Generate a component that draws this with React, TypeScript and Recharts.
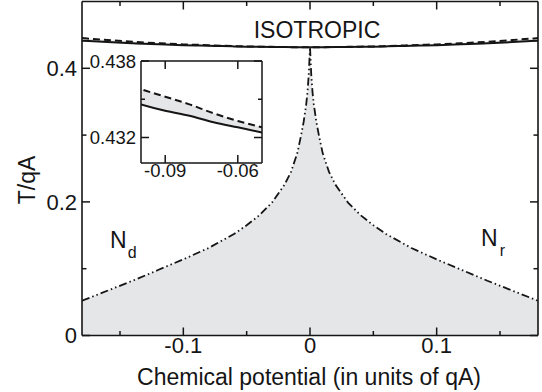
import React from "react";
import { ComposedChart, Area, Line, XAxis, YAxis } from "recharts";

// nematic-isotropic boundary (dash-dot) and the shaded nematic region under it
const nemMu = [
  -0.18, -0.16, -0.14, -0.12, -0.1, -0.08, -0.06, -0.05, -0.04, -0.03, -0.02, -0.015, -0.01, -0.007, -0.005,
  -0.003, -0.002, -0.001, 0, 0.001, 0.002, 0.003, 0.005, 0.007, 0.01, 0.015, 0.02, 0.03, 0.04, 0.05, 0.06,
  0.08, 0.1, 0.12, 0.14, 0.16, 0.18,
];
const nemT = [
  0.052, 0.067, 0.082, 0.098, 0.114, 0.131, 0.152, 0.165, 0.18, 0.199, 0.226, 0.245, 0.273, 0.3, 0.32,
  0.346, 0.364, 0.39, 0.432, 0.39, 0.364, 0.346, 0.32, 0.3, 0.273, 0.245, 0.226, 0.199, 0.18, 0.165, 0.152,
  0.131, 0.114, 0.098, 0.082, 0.067, 0.052,
];

// isotropic transition: solid and dashed lines
const isoMu = [
  -0.18, -0.16, -0.14, -0.12, -0.1, -0.09, -0.08, -0.07, -0.06, -0.05, -0.04, -0.03, -0.02, -0.01, 0,
  0.01, 0.02, 0.03, 0.04, 0.05, 0.06, 0.07, 0.08, 0.09, 0.1, 0.12, 0.14, 0.16, 0.18,
];
const isoSolid = [
  0.4413, 0.4393, 0.4375, 0.4359, 0.4346, 0.4341, 0.4337, 0.4332, 0.4328, 0.4324, 0.4321, 0.4319, 0.4317, 0.4316, 0.4316,
  0.4316, 0.4317, 0.4319, 0.4321, 0.4324, 0.4328, 0.4332, 0.4337, 0.4341, 0.4346, 0.4359, 0.4375, 0.4393, 0.4413,
];
const isoDashed = [
  0.4452, 0.4424, 0.4398, 0.4376, 0.4358, 0.4352, 0.4346, 0.4339, 0.4333, 0.4328, 0.4324, 0.4321, 0.4318, 0.4316, 0.4316,
  0.4316, 0.4318, 0.4321, 0.4324, 0.4328, 0.4333, 0.4339, 0.4346, 0.4352, 0.4358, 0.4376, 0.4398, 0.4424, 0.4452,
];

const xTicks = [-0.15, -0.1, -0.05, 0, 0.05, 0.1, 0.15];
const xLabels = [-0.1, 0, 0.1];
const yTicks = [0, 0.1, 0.2, 0.3, 0.4];
const yLabels = [0, 0.2, 0.4];

const insetXTicks = [-0.09, -0.075, -0.06];
const insetXLabels = [-0.09, -0.06];
const insetYTicks = [0.4305, 0.432, 0.4335, 0.435, 0.4365, 0.438];
const insetYLabels = [0.432, 0.438];

const nemData = nemMu.map((mu, i) => ({ mu, t: nemT[i] }));
const isoData = isoMu.map((mu, i) => ({ mu, solid: isoSolid[i], dashed: isoDashed[i] }));

const FONT = "'Liberation Sans', Arial, sans-serif";
const INK = "#151515";
const GREY = "#e5e6e8";

// ticks point inward; labels only on the major ones
function makeTick(side: string, labels: number[], fs: number, big: number, small: number) {
  return (props: any) => {
    const { x, y, payload } = props;
    const v = payload.value;
    const major = labels.includes(v);
    const len = major ? big : small;
    let line;
    let label = null;
    if (side === "bottom") {
      line = <line x1={x} x2={x} y1={y} y2={y - len} stroke={INK} strokeWidth={1.5} />;
      if (major)
        label = (
          <text x={x} y={y + fs * 0.78} textAnchor="middle" fontSize={fs} fontFamily={FONT} fill={INK}>
            {String(v)}
          </text>
        );
    } else if (side === "top") {
      line = <line x1={x} x2={x} y1={y} y2={y + len} stroke={INK} strokeWidth={1.5} />;
    } else if (side === "left") {
      line = <line x1={x} x2={x + len} y1={y} y2={y} stroke={INK} strokeWidth={1.5} />;
      if (major)
        label = (
          <text x={x - 5} y={y + fs * 0.36} textAnchor="end" fontSize={fs} fontFamily={FONT} fill={INK}>
            {String(v)}
          </text>
        );
    } else {
      line = <line x1={x} x2={x - len} y1={y} y2={y} stroke={INK} strokeWidth={1.5} />;
    }
    return (
      <g>
        {line}
        {label}
      </g>
    );
  };
}

function Inset() {
  return (
    <div style={{ position: "absolute", left: 80, top: 50 }}>
      <ComposedChart width={190} height={140} margin={{ top: 10, right: 7, bottom: 0, left: 0 }} data={isoData}>
        <XAxis
          dataKey="mu"
          type="number"
          domain={[-0.1, -0.05]}
          allowDataOverflow
          ticks={insetXTicks}
          tickSize={0}
          tickMargin={0}
          height={27}
          axisLine={{ stroke: INK, strokeWidth: 1.5 }}
          tickLine={false}
          tick={makeTick("bottom", insetXLabels, 18.5, 8, 4)}
        />
        <XAxis
          xAxisId="top"
          dataKey="mu"
          orientation="top"
          type="number"
          domain={[-0.1, -0.05]}
          allowDataOverflow
          ticks={insetXTicks}
          tickSize={0}
          tickMargin={0}
          height={1}
          axisLine={{ stroke: INK, strokeWidth: 1.5 }}
          tickLine={false}
          tick={makeTick("top", insetXLabels, 18.5, 8, 4)}
        />
        <YAxis
          type="number"
          domain={[0.43, 0.438]}
          allowDataOverflow
          ticks={insetYTicks}
          tickSize={0}
          tickMargin={0}
          width={61}
          axisLine={{ stroke: INK, strokeWidth: 1.5 }}
          tickLine={false}
          tick={makeTick("left", insetYLabels, 18.5, 8, 4)}
        />
        <YAxis
          yAxisId="right"
          orientation="right"
          type="number"
          domain={[0.43, 0.438]}
          allowDataOverflow
          ticks={insetYTicks}
          tickSize={0}
          tickMargin={0}
          width={1}
          axisLine={{ stroke: INK, strokeWidth: 1.5 }}
          tickLine={false}
          tick={makeTick("right", insetYLabels, 18.5, 8, 4)}
        />
        <Area
          dataKey={(d: any) => [d.solid, d.dashed]}
          type="monotone"
          stroke="none"
          fill={GREY}
          fillOpacity={1}
          isAnimationActive={false}
        />
        <Line dataKey="solid" type="monotone" stroke={INK} strokeWidth={2} dot={false} isAnimationActive={false} />
        <Line
          dataKey="dashed"
          type="monotone"
          stroke={INK}
          strokeWidth={2}
          strokeDasharray="7 4"
          dot={false}
          isAnimationActive={false}
        />
      </ComposedChart>
    </div>
  );
}

export default function App() {
  return (
    <div style={{ position: "absolute", left: 0, top: 0, width: 542, height: 392, background: "#fff" }}>
      <ComposedChart width={542} height={392} margin={{ top: 0.5, right: 3, bottom: 0, left: 0 }}>
        <Area
          data={nemData}
          dataKey="t"
          type="linear"
          stroke="none"
          fill={GREY}
          fillOpacity={1}
          isAnimationActive={false}
        />
        <Line
          data={nemData}
          dataKey="t"
          type="linear"
          stroke={INK}
          strokeWidth={1.8}
          strokeDasharray="8 3 1.5 3 1.5 3"
          dot={false}
          isAnimationActive={false}
        />
        <Area
          data={isoData}
          dataKey={(d: any) => [d.solid, d.dashed]}
          type="monotone"
          stroke="none"
          fill={GREY}
          fillOpacity={1}
          isAnimationActive={false}
        />
        <Line data={isoData} dataKey="solid" type="monotone" stroke={INK} strokeWidth={2} dot={false} isAnimationActive={false} />
        <Line
          data={isoData}
          dataKey="dashed"
          type="monotone"
          stroke={INK}
          strokeWidth={2}
          strokeDasharray="7 4"
          dot={false}
          isAnimationActive={false}
        />
        <XAxis
          dataKey="mu"
          type="number"
          domain={[-0.18, 0.18]}
          allowDataOverflow
          ticks={xTicks}
          tickSize={0}
          tickMargin={0}
          height={56.5}
          axisLine={{ stroke: INK, strokeWidth: 1.6 }}
          tickLine={false}
          tick={makeTick("bottom", xLabels, 22, 8, 4.5)}
        />
        <XAxis
          xAxisId="top"
          dataKey="mu"
          orientation="top"
          type="number"
          domain={[-0.18, 0.18]}
          allowDataOverflow
          ticks={xTicks}
          tickSize={0}
          tickMargin={0}
          height={1}
          axisLine={{ stroke: INK, strokeWidth: 1.6 }}
          tickLine={false}
          tick={makeTick("top", xLabels, 22, 8, 4.5)}
        />
        <YAxis
          type="number"
          domain={[0, 0.5]}
          allowDataOverflow
          ticks={yTicks}
          tickSize={0}
          tickMargin={0}
          width={82}
          axisLine={{ stroke: INK, strokeWidth: 1.6 }}
          tickLine={false}
          tick={makeTick("left", yLabels, 22, 8, 4.5)}
        />
        <YAxis
          yAxisId="right"
          orientation="right"
          type="number"
          domain={[0, 0.5]}
          allowDataOverflow
          ticks={yTicks}
          tickSize={0}
          tickMargin={0}
          width={1}
          axisLine={{ stroke: INK, strokeWidth: 1.6 }}
          tickLine={false}
          tick={makeTick("right", yLabels, 22, 8, 4.5)}
        />
      </ComposedChart>

      <Inset />

      <svg
        width={542}
        height={392}
        style={{ position: "absolute", left: 0, top: 0, pointerEvents: "none" }}
        fontFamily={FONT}
        fill={INK}
      >
        <text x={317} y={38} textAnchor="middle" fontSize={23}>
          ISOTROPIC
        </text>
        <text x={110} y={248} fontSize={23}>
          N
          <tspan dx={1} dy={10} fontSize={16}>
            d
          </tspan>
        </text>
        <text x={481} y={246} fontSize={23}>
          N
          <tspan dx={2} dy={10} fontSize={16}>
            r
          </tspan>
        </text>
        <text x={309} y={385} textAnchor="middle" fontSize={23}>
          Chemical potential (in units of qA)
        </text>
        <text transform="translate(35,180) rotate(-90)" textAnchor="middle" fontSize={23}>
          T/qA
        </text>
      </svg>
    </div>
  );
}
